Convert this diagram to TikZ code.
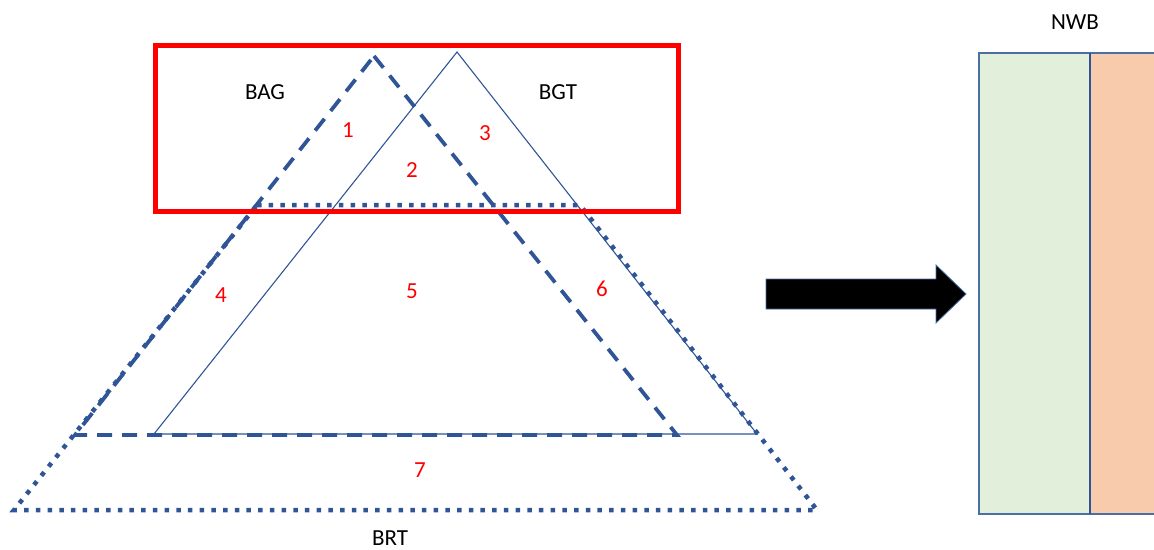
\documentclass[tikz,border=0pt]{standalone}
\usepackage{fontspec}
\setmainfont{Carlito}
\begin{document}
\begin{tikzpicture}[x=1pt,y=-1pt,
  lbl/.style={font=\fontsize{23}{26}\selectfont, text=black, inner sep=0pt},
  num/.style={font=\fontsize{23}{26}\selectfont, text=red, inner sep=0pt},
  dashtri/.style={draw=tblue, line width=3.8pt, dash pattern=on 15pt off 10pt},
  dottrap/.style={draw=tblue, line width=4.5pt, dash pattern=on 4.5pt off 7.2pt},
  thintri/.style={draw=tblue, line width=1.1pt},
  redbox/.style={draw=red, line width=5pt},
  colbox/.style={draw=bblue, line width=1.4pt}]
\definecolor{tblue}{HTML}{2F5597}
\definecolor{bblue}{HTML}{4A6FA5}
\definecolor{gfill}{HTML}{E2EFDA}
\definecolor{ofill}{HTML}{F8CBAD}
\useasboundingbox (0,0) rectangle (1154,549);
% coordinates
\coordinate (da) at (374,56);
\coordinate (dl) at (75,435);
\coordinate (dr) at (677,435);
\coordinate (ta) at (457,52);
\coordinate (tl) at (154,434);
\coordinate (tr) at (757,434);
\coordinate (pl) at (257,205);
\coordinate (pr) at (580,205);
\coordinate (pbl) at (14,510);
\coordinate (pbr) at (817,510);
% thin triangle BGT
\draw[thintri] (ta) -- (tr) -- (tl) -- cycle;
% dashed triangle BAG
\draw[dashtri] (da) -- (dr) -- (dl) -- cycle;
% dotted trapezoid BRT
\draw[dottrap] (pl) -- (pr) -- (pbr) -- (pbl) -- cycle;
% red box
\draw[redbox] (155,45) rectangle (678,211);
% labels
\node[lbl] (bag) at (265,92) {BAG};
\node[lbl] (bgt) at (558,92) {BGT};
\node[lbl] (brt) at (390,538) {BRT};
\node[lbl] (nwb) at (1075,22) {NWB};
\node[num] (n1) at (348,130) {1};
\node[num] (n2) at (412,170) {2};
\node[num] (n3) at (485,133) {3};
\node[num] (n4) at (221,295) {4};
\node[num] (n5) at (412,291) {5};
\node[num] (n6) at (602,289) {6};
\node[num] (n7) at (420,470) {7};
% arrow
\draw[fill=black, draw=bblue, line width=0.8pt]
  (766,279) -- (936,279) -- (936,265) -- (966,294) -- (936,323) -- (936,309) -- (766,309) -- cycle;
% right boxes
\draw[colbox, fill=gfill] (979,53) rectangle (1090,514);
\draw[colbox, fill=ofill] (1090,53) rectangle (1170,514);
\draw[draw=tblue, line width=1.8pt] (1090,53) -- (1090,514);
\end{tikzpicture}
\end{document}
